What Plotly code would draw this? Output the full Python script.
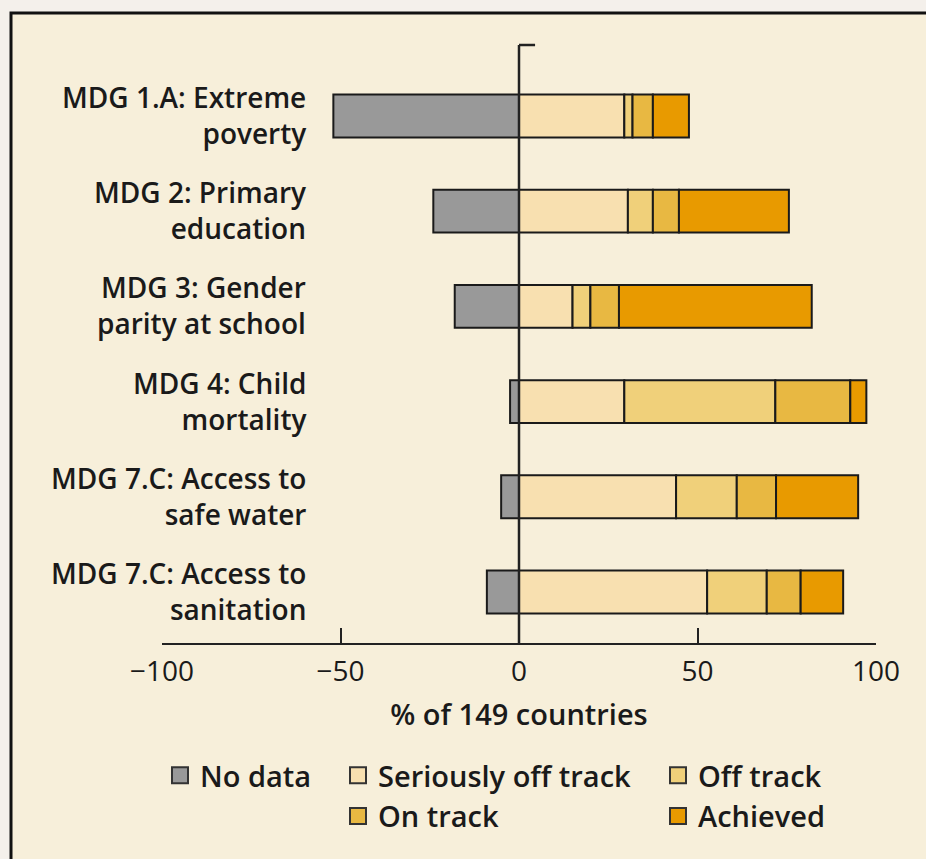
import plotly.graph_objects as go

categories = ["MDG 1.A: Extreme<br>poverty", "MDG 2: Primary<br>education",
              "MDG 3: Gender<br>parity at school", "MDG 4: Child<br>mortality",
              "MDG 7.C: Access to<br>safe water", "MDG 7.C: Access to<br>sanitation"]
no_data = [52, 24, 18, 2.5, 5, 9]
seriously_off = [29.5, 30.5, 15, 29.5, 44, 52.7]
off_track = [2.3, 7, 5, 42.3, 17, 16.7]
on_track = [5.7, 7.3, 8, 21, 11, 9.5]
achieved = [10.1, 30.8, 54, 4.5, 23, 11.9]
tick_vals = [-100, -50, 0, 50, 100]

series = [
    ("No data", [-v for v in no_data], "#999999", "legend"),
    ("Seriously off track", seriously_off, "#f8e0b0", "legend2"),
    ("Off track", off_track, "#f0d07a", "legend3"),
    ("On track", on_track, "#e8b842", "legend2"),
    ("Achieved", achieved, "#e89a00", "legend3"),
]

FONT = "Open Sans"
TXT = "#1a1a1a"
fig = go.Figure()
for name, vals, color, lg in series:
    fig.add_trace(go.Bar(
        x=vals, y=categories, orientation="h", name=name,
        marker=dict(color=color, line=dict(color="#1a1a1a", width=2)),
        showlegend=False, legendgroup=name,
    ))
for name, vals, color, lg in series:
    fig.add_trace(go.Scatter(
        x=[None], y=[None], mode="markers", name=name, legendgroup=name,
        marker=dict(symbol="square", size=16, color=color,
                    line=dict(color="#333333", width=2)),
        legend=lg, showlegend=True,
    ))

for c in categories:
    fig.add_annotation(x=-59, y=c, xref="x", yref="y", text=c, showarrow=False,
                       xanchor="right", yanchor="middle", align="right", yshift=1,
                       font=dict(family=FONT, size=28, color=TXT, weight=600))

L, R, T, B = 162, 876, 45, 643
W, H = 926, 859
pw, ph = R - L, B - T

def px(p):
    return (p - L) / pw

def py(p):
    return (B - p) / ph

shapes = [
    dict(type="rect", xref="paper", yref="paper", x0=px(11), x1=px(960), y0=py(900), y1=py(13),
         fillcolor="#f7efda", line=dict(color="#111111", width=3), layer="below"),
    dict(type="line", xref="x", yref="paper", x0=0, x1=0, y0=0, y1=1,
         line=dict(color="#222222", width=2.5), layer="above"),
    dict(type="line", xref="x", yref="paper", x0=0, x1=4.5, y0=1, y1=1,
         line=dict(color="#222222", width=2.5), layer="above"),
]

legend_common = dict(font=dict(family=FONT, size=29, color=TXT, weight=600),
                     bgcolor="rgba(0,0,0,0)", orientation="v", yanchor="top",
                     tracegroupgap=0, itemwidth=30)

fig.update_layout(
    width=W, height=H,
    margin=dict(l=L, r=W - R, t=T, b=H - B, pad=0),
    paper_bgcolor="#f4f0eb", plot_bgcolor="rgba(0,0,0,0)",
    barmode="relative", bargap=0.55,
    shapes=shapes,
    font=dict(family=FONT, size=28, color=TXT),
    xaxis=dict(range=[-100, 100], tickvals=tick_vals, ticks="inside", ticklen=15,
               tickwidth=2, tickcolor="#222222", showline=True, linecolor="#222222",
               linewidth=2, showgrid=False, zeroline=False, ticklabelstandoff=2,
               tickfont=dict(family=FONT, size=28, color=TXT, weight=500),
               title=dict(text="% of 149 countries", standoff=17,
                          font=dict(family=FONT, size=29, color=TXT, weight=600))),
    yaxis=dict(categoryorder="array", categoryarray=categories,
               range=[5.536, -0.746], showticklabels=False, showgrid=False,
               zeroline=False, showline=False, ticks=""),
    legend=dict(x=px(160), y=py(750), xanchor="left", **legend_common),
    legend2=dict(x=px(338), y=py(750), xanchor="left", **legend_common),
    legend3=dict(x=px(658), y=py(750), xanchor="left", **legend_common),
)

fig.write_html("out.html", config={"displayModeBar": False},
               post_script="document.body.style.margin='0';document.body.style.overflow='hidden';")
